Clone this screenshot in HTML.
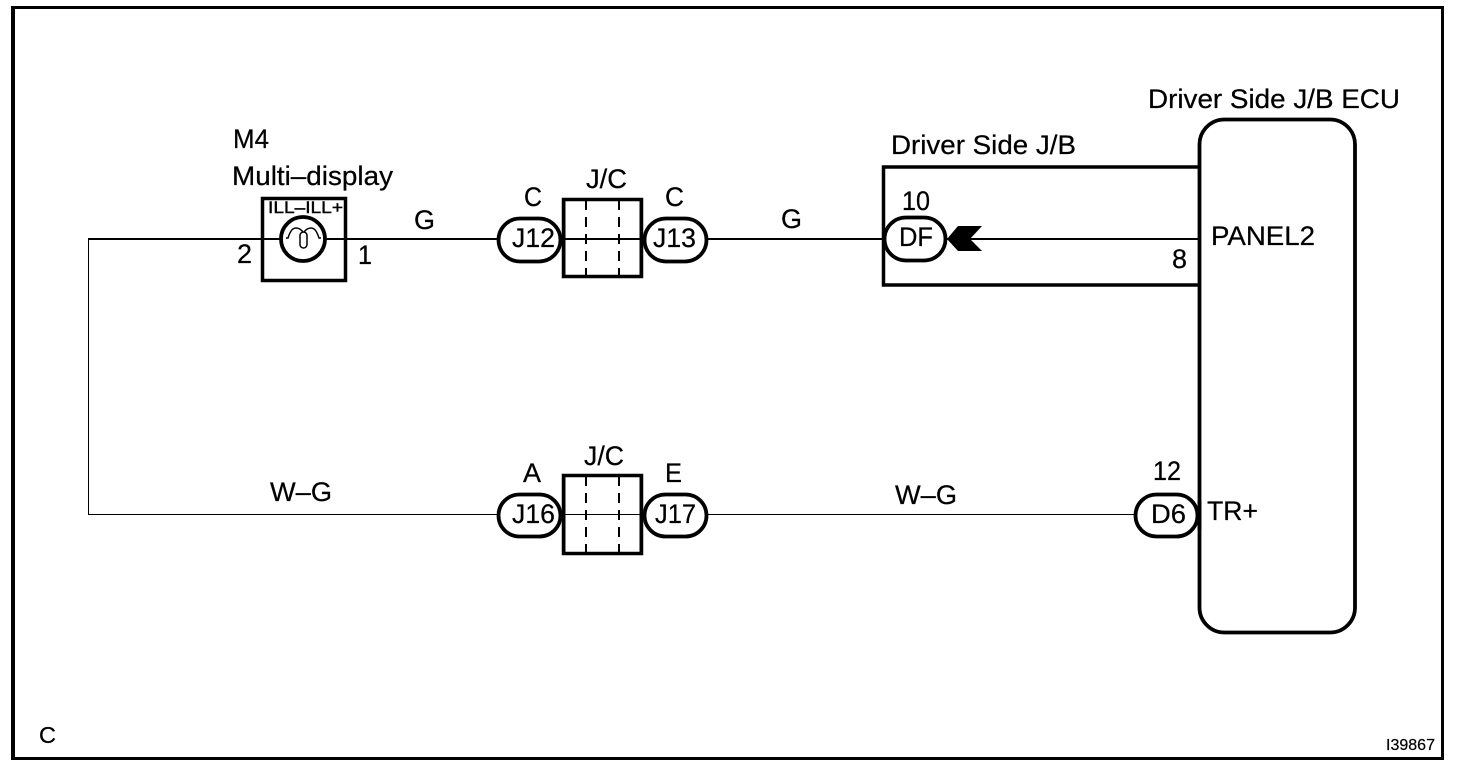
<!DOCTYPE html>
<html>
<head>
<meta charset="utf-8">
<style>
html,body{margin:0;padding:0;background:#fff;width:1472px;height:770px;overflow:hidden}
svg{display:block}
text{font-family:"Liberation Sans",sans-serif;font-size:26.500px;fill:#000;stroke:#000;stroke-width:.25px}
.s{fill:none;stroke:#000;stroke-width:3.5}
.p{fill:#fff;stroke:#000;stroke-width:3.8}
.w{fill:none;stroke:#000;stroke-width:2}
.t{fill:none;stroke:#000;stroke-width:1}
.d{fill:none;stroke:#000;stroke-width:2;stroke-dasharray:10 7}
</style>
</head>
<body>
<svg width="1472" height="770" viewBox="0 0 1472 770" xmlns="http://www.w3.org/2000/svg">
<rect width="1472" height="770" fill="#fff"/>
<!-- frame -->
<rect x="11" y="6" width="1433" height="3" fill="#000"/>
<rect x="11" y="6" width="4" height="754" fill="#000"/>
<rect x="1441" y="6" width="3" height="754" fill="#000"/>
<rect x="11" y="757" width="1433" height="3" fill="#000"/>

<!-- wires -->
<path class="t" d="M88.500 239V514.500H500"/>
<path class="w" d="M88 239H500M705 239H884M946 239H1199"/>
<path class="t" d="M705 514.500H1136"/>

<!-- M4 box -->
<rect class="s" x="262.500" y="198.500" width="83" height="82"/>
<circle cx="303" cy="239" r="22" fill="#fff" stroke="#000" stroke-width="3.800"/>
<path fill="none" stroke="#000" stroke-width="1.500" d="M286 238H288C290 232 292 228 296 228C299 228 302 230 303.500 233C305 230 308 228 311 228C315 228 317 232 319 238H321"/>
<rect x="300" y="232" width="7" height="16" rx="3.500" fill="#fff" stroke="#000" stroke-width="1.500"/>
<text x="268" y="213" textLength="75" lengthAdjust="spacingAndGlyphs" style="font-size:17px;stroke-width:.4px">ILL–ILL+</text>

<!-- J/C top -->
<rect class="s" x="563.500" y="199.500" width="78" height="77"/>
<path class="d" d="M586 200V277M619 200V277"/>
<path class="w" d="M563 239H642"/>
<rect class="p" x="498.500" y="218.500" width="62" height="43" rx="21.500"/>
<rect class="p" x="644.500" y="218.500" width="62" height="43" rx="21.500"/>
<rect x="562" y="198" width="3.500" height="80" fill="#000"/>
<rect x="639.500" y="198" width="3.500" height="80" fill="#000"/>

<!-- J/C bottom -->
<rect class="s" x="563.500" y="475.500" width="78" height="78"/>
<path class="d" d="M586 476V554M619 476V554"/>
<path class="t" d="M563 514.500H642"/>
<rect class="p" x="498.500" y="494.500" width="62" height="42" rx="21"/>
<rect class="p" x="644.500" y="494.500" width="62" height="42" rx="21"/>
<rect x="562" y="474" width="3.500" height="81" fill="#000"/>
<rect x="639.500" y="474" width="3.500" height="81" fill="#000"/>

<!-- J/B box -->
<path class="s" d="M1199 167H883.500V285H1199"/>
<rect class="p" x="884.500" y="217.500" width="61" height="43" rx="21.500"/>
<polygon points="947,239 958,226 982,226 970,239 982,251 958,251" fill="#000"/>

<!-- ECU -->
<rect x="1199.500" y="119.500" width="155.500" height="513" rx="25" ry="25" fill="none" stroke="#000" stroke-width="3.800"/>
<rect class="p" x="1135.500" y="494.500" width="62" height="42" rx="21"/>
<path d="M1199.500 500V530" stroke="#000" stroke-width="3.800" fill="none"/>

<!-- labels -->
<text x="233" y="148" textLength="36" lengthAdjust="spacingAndGlyphs">M4</text>
<text x="232" y="185" textLength="161" lengthAdjust="spacingAndGlyphs">Multi–display</text>
<text x="237" y="263" textLength="15" lengthAdjust="spacingAndGlyphs">2</text>
<text x="358" y="264" textLength="14" lengthAdjust="spacingAndGlyphs">1</text>
<text x="414" y="229" textLength="21" lengthAdjust="spacingAndGlyphs">G</text>
<text x="524" y="206" textLength="18" lengthAdjust="spacingAndGlyphs">C</text>
<text x="586" y="188" textLength="41" lengthAdjust="spacingAndGlyphs">J/C</text>
<text x="665" y="206" textLength="19" lengthAdjust="spacingAndGlyphs">C</text>
<text x="512" y="247" textLength="43" lengthAdjust="spacingAndGlyphs">J12</text>
<text x="653" y="247" textLength="43" lengthAdjust="spacingAndGlyphs">J13</text>
<text x="781" y="228" textLength="21" lengthAdjust="spacingAndGlyphs">G</text>
<text x="891" y="154" textLength="185" lengthAdjust="spacingAndGlyphs">Driver Side J/B</text>
<text x="902" y="210" textLength="28" lengthAdjust="spacingAndGlyphs">10</text>
<text x="899" y="246" textLength="34" lengthAdjust="spacingAndGlyphs">DF</text>
<text x="1172" y="268" textLength="15" lengthAdjust="spacingAndGlyphs">8</text>
<text x="1148" y="108" textLength="252" lengthAdjust="spacingAndGlyphs">Driver Side J/B ECU</text>
<text x="1211" y="245" textLength="104" lengthAdjust="spacingAndGlyphs">PANEL2</text>
<text x="270" y="501" textLength="62" lengthAdjust="spacingAndGlyphs">W–G</text>
<text x="523" y="482" textLength="18" lengthAdjust="spacingAndGlyphs">A</text>
<text x="584" y="465" textLength="40" lengthAdjust="spacingAndGlyphs">J/C</text>
<text x="665" y="482" textLength="17" lengthAdjust="spacingAndGlyphs">E</text>
<text x="512" y="523" textLength="43" lengthAdjust="spacingAndGlyphs">J16</text>
<text x="655" y="523" textLength="41" lengthAdjust="spacingAndGlyphs">J17</text>
<text x="895" y="504" textLength="62" lengthAdjust="spacingAndGlyphs">W–G</text>
<text x="1153" y="480" textLength="28" lengthAdjust="spacingAndGlyphs">12</text>
<text x="1151" y="523" textLength="35" lengthAdjust="spacingAndGlyphs">D6</text>
<text x="1207" y="520" textLength="51" lengthAdjust="spacingAndGlyphs">TR+</text>
<text x="39" y="743" textLength="17" lengthAdjust="spacingAndGlyphs" style="font-size:23px">C</text>
<text x="1386" y="750" textLength="49" lengthAdjust="spacingAndGlyphs" style="font-size:15.500px;stroke-width:.2px">I39867</text>
</svg>
</body>
</html>
